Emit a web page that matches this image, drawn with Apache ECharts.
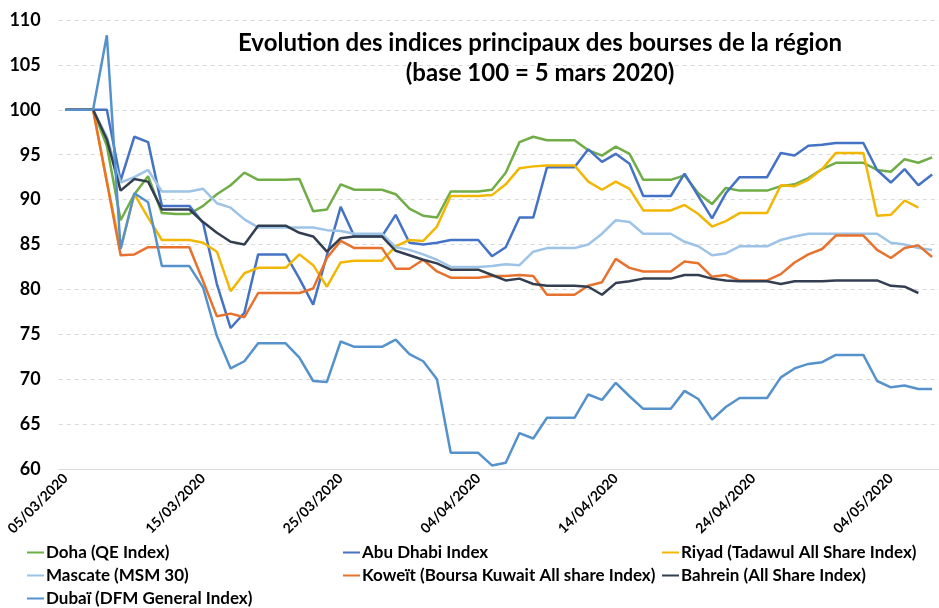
<!DOCTYPE html>
<html>
<head>
<meta charset="utf-8">
<script src="https://cdn.jsdelivr.net/npm/echarts@6/dist/echarts.min.js"></script>
<style>
  html, body { margin: 0; padding: 0; background: #fff; }
  #chart { width: 939px; height: 608px; }
</style>
</head>
<body>
<div id="chart"></div>
<script>
// dates (one per calendar day)
const dates = [
  "05/03/2020","06/03/2020","07/03/2020","08/03/2020","09/03/2020","10/03/2020","11/03/2020","12/03/2020",
  "13/03/2020","14/03/2020","15/03/2020","16/03/2020","17/03/2020","18/03/2020","19/03/2020","20/03/2020",
  "21/03/2020","22/03/2020","23/03/2020","24/03/2020","25/03/2020","26/03/2020","27/03/2020","28/03/2020",
  "29/03/2020","30/03/2020","31/03/2020","01/04/2020","02/04/2020","03/04/2020","04/04/2020","05/04/2020",
  "06/04/2020","07/04/2020","08/04/2020","09/04/2020","10/04/2020","11/04/2020","12/04/2020","13/04/2020",
  "14/04/2020","15/04/2020","16/04/2020","17/04/2020","18/04/2020","19/04/2020","20/04/2020","21/04/2020",
  "22/04/2020","23/04/2020","24/04/2020","25/04/2020","26/04/2020","27/04/2020","28/04/2020","29/04/2020",
  "30/04/2020","01/05/2020","02/05/2020","03/05/2020","04/05/2020","05/05/2020","06/05/2020","07/05/2020"
]

const doha = [
  100, 100, 100, 96, 87.7, 90.6, 92.6, 88.5, 88.4, 88.4, 89.3, 90.6, 91.6, 93.0, 92.2, 92.2,
  92.2, 92.3, 88.7, 88.9, 91.7, 91.1, 91.1, 91.1, 90.6, 89.0, 88.2, 88.0, 90.9, 90.9, 90.9, 91.1,
  93.0, 96.4, 97.0, 96.6, 96.6, 96.6, 95.5, 94.9, 95.9, 95.1, 92.2, 92.2, 92.2, 92.7, 90.7, 89.5,
  91.3, 91.0, 91.0, 91.0, 91.5, 91.7, 92.4, 93.4, 94.1, 94.1, 94.1, 93.3, 93.1, 94.5, 94.1, 94.7
]
const abuDhabi = [
  100, 100, 100, 100, 92.1, 97.0, 96.4, 89.3, 89.3, 89.3, 87.4, 80.6, 75.7, 77.4, 83.9, 83.9,
  83.9, 81.2, 78.3, 83.8, 89.2, 85.9, 85.9, 85.9, 88.3, 85.2, 85.0, 85.2, 85.5, 85.5, 85.5, 83.7,
  84.7, 88.0, 88.0, 93.6, 93.6, 93.6, 95.6, 94.2, 95.1, 94.0, 90.4, 90.4, 90.4, 92.9, 90.4, 87.9,
  90.7, 92.5, 92.5, 92.5, 95.2, 94.9, 96.0, 96.1, 96.3, 96.3, 96.3, 93.3, 91.9, 93.4, 91.6, 92.8
]
const riyad = [
  100, 100, 100, 92, 84.5, 90.6, 88.0, 85.5, 85.5, 85.5, 85.2, 84.2, 79.8, 81.8, 82.4, 82.4,
  82.4, 83.9, 82.7, 80.3, 83.0, 83.2, 83.2, 83.2, 84.8, 85.5, 85.4, 87.0, 90.4, 90.4, 90.4, 90.5,
  91.7, 93.5, 93.7, 93.8, 93.8, 93.8, 92.0, 91.1, 92.0, 91.2, 88.8, 88.8, 88.8, 89.4, 88.4, 87.0,
  87.6, 88.5, 88.5, 88.5, 91.6, 91.5, 92.2, 93.4, 95.2, 95.2, 95.2, 88.2, 88.3, 89.9, 89.1, null
]
const mascate = [
  100, 100, 100, 97, 91.9, 92.5, 93.3, 90.9, 90.9, 90.9, 91.2, 89.6, 89.1, 87.8, 86.9, 86.9,
  86.9, 86.9, 86.9, 86.6, 86.5, 86.2, 86.2, 86.2, 84.7, 84.4, 83.9, 83.3, 82.5, 82.5, 82.5, 82.6,
  82.8, 82.7, 84.2, 84.6, 84.6, 84.6, 85.0, 86.2, 87.7, 87.5, 86.2, 86.2, 86.2, 85.3, 84.8, 83.8,
  84.0, 84.8, 84.8, 84.8, 85.5, 85.9, 86.2, 86.2, 86.2, 86.2, 86.2, 86.2, 85.2, 85.0, 84.6, 84.4
]
const koweit = [
  100, 100, 100, 92, 83.8, 83.9, 84.7, 84.7, 84.7, 84.7, 80.9, 77.0, 77.3, 76.9, 79.6, 79.6,
  79.6, 79.6, 80.1, 83.5, 85.4, 84.6, 84.6, 84.6, 82.3, 82.3, 83.3, 82.0, 81.3, 81.3, 81.3, 81.5,
  81.5, 81.6, 81.5, 79.4, 79.4, 79.4, 80.4, 80.8, 83.4, 82.4, 82.0, 82.0, 82.0, 83.1, 82.9, 81.4,
  81.6, 81.0, 81.0, 81.0, 81.7, 83.0, 83.9, 84.5, 86.0, 86.0, 86.0, 84.4, 83.5, 84.6, 84.9, 83.6
]
const bahrein = [
  100, 100, 100, 96.7, 91.0, 92.3, 92.0, 88.9, 88.9, 88.9, 87.5, 86.3, 85.3, 85.0, 87.1, 87.1,
  87.1, 86.3, 85.9, 84.2, 85.7, 85.9, 85.9, 85.9, 84.3, 83.8, 83.3, 82.9, 82.2, 82.2, 82.2, 81.6,
  81.0, 81.2, 80.6, 80.4, 80.4, 80.4, 80.3, 79.4, 80.7, 80.9, 81.2, 81.2, 81.2, 81.6, 81.6, 81.2,
  81.0, 80.9, 80.9, 80.9, 80.6, 80.9, 80.9, 80.9, 81.0, 81.0, 81.0, 81.0, 80.4, 80.3, 79.6, null
]
const dubai = [
  100, 100, 100, 108.3, 84.5, 90.7, 89.7, 82.6, 82.6, 82.6, 80.2, 74.8, 71.2, 72.0, 74.0, 74.0,
  74.0, 72.4, 69.8, 69.7, 74.2, 73.6, 73.6, 73.6, 74.4, 72.8, 72.0, 70.0, 61.8, 61.8, 61.8, 60.4,
  60.7, 64.0, 63.4, 65.7, 65.7, 65.7, 68.3, 67.7, 69.6, 68.1, 66.7, 66.7, 66.7, 68.7, 67.8, 65.5,
  66.9, 67.9, 67.9, 67.9, 70.2, 71.2, 71.7, 71.9, 72.7, 72.7, 72.7, 69.8, 69.1, 69.3, 68.9, 68.9
]

const yTicks = { min: 60, max: 110, step: 5 }

const seriesList = [
  { name: "Doha (QE Index)", data: doha, color: "#70ad47" },
  { name: "Abu Dhabi Index", data: abuDhabi, color: "#4472c4" },
  { name: "Riyad (Tadawul All Share Index)", data: riyad, color: "#f2b705" },
  { name: "Mascate (MSM 30)", data: mascate, color: "#9dc3e6" },
  { name: "Koweït (Boursa Kuwait All share Index)", data: koweit, color: "#e7722e" },
  { name: "Bahrein (All Share Index)", data: bahrein, color: "#333f50" },
  { name: "Dubaï (DFM General Index)", data: dubai, color: "#5592cc" },
]

const font = "Lato, 'Open Sans', sans-serif"

// une colonne de légende (Excel met 3 colonnes)
function legendCol(left, names) {
  return {
    left: left,
    top: 544,
    height: 80,
    padding: 0,
    orient: "vertical",
    itemGap: 6,
    itemWidth: 17,
    itemHeight: 2,
    icon: "rect",
    data: names,
    textStyle: { fontFamily: font, fontWeight: "bold", fontSize: 17, color: "#000", padding: [0, 0, 0, -3] },
  }
}

const myChart = echarts.init(document.getElementById("chart"))
myChart.setOption({
  animation: false,
  backgroundColor: "#fff",
  title: {
    text: "Evolution des indices principaux des bourses de la région\n(base 100 = 5 mars 2020)",
    left: 535,
    top: 23,
    textAlign: "center",
    textStyle: { fontFamily: font, fontWeight: "bold", fontSize: 24, lineHeight: 30, color: "#000" },
  },
  legend: [
    legendCol(27, [seriesList[0].name, seriesList[3].name, seriesList[6].name]),
    legendCol(343, [seriesList[1].name, seriesList[4].name]),
    legendCol(662, [seriesList[2].name, seriesList[5].name]),
  ],
  grid: { left: 58.7, right: -16, top: 20, bottom: 139 },
  xAxis: {
    type: "category",
    boundaryGap: true,
    data: dates,
    axisLine: { lineStyle: { color: "#d9d9d9", width: 1 } },
    axisTick: { interval: 9, length: 5, lineStyle: { color: "#d9d9d9" } },
    axisLabel: {
      interval: 9,
      rotate: 45,
      margin: 7,
      fontFamily: font,
      fontWeight: "bold",
      fontSize: 14,
      color: "#000",
    },
  },
  yAxis: {
    type: "value",
    min: yTicks.min,
    max: yTicks.max,
    interval: yTicks.step,
    axisLine: { show: false },
    axisTick: { show: false },
    axisLabel: { margin: 18, fontFamily: font, fontWeight: "bold", fontSize: 18, color: "#000" },
    splitLine: { lineStyle: { color: "#d9d9d9", type: [4, 4], width: 1 } },
  },
  series: seriesList.map((s) => ({
    name: s.name,
    type: "line",
    data: s.data,
    symbol: "none",
    lineStyle: { width: 2.5, color: s.color },
    itemStyle: { color: s.color },
  })),
})
</script>
</body>
</html>
